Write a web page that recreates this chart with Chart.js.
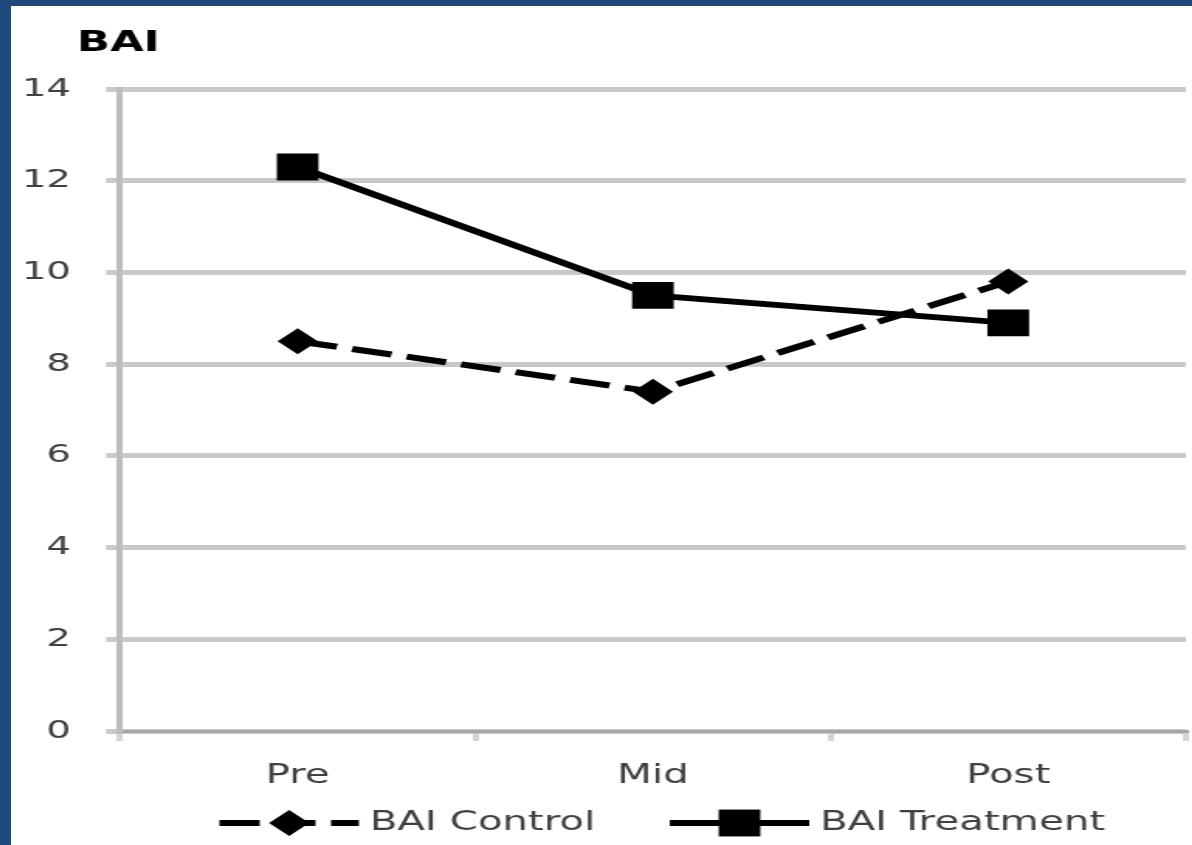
<!DOCTYPE html>
<html>
<head>
<meta charset="utf-8">
<title>BAI</title>
<script src="https://cdn.jsdelivr.net/npm/chart.js@4/dist/chart.umd.min.js"></script>
<style>
  html, body { margin: 0; padding: 0; }
  body { width: 1192px; height: 845px; overflow: hidden; background: #1f497d; position: relative; }
  #panel { position: absolute; left: 11px; top: 6px; width: 1181px; height: 839px; background: #ffffff; overflow: hidden; }
  #wrap { position: absolute; left: 0; top: 0; width: 762px; height: 839px; transform: scaleX(1.55); transform-origin: 0 0; }
</style>
</head>
<body>
<div id="panel"><div id="wrap"><canvas id="chart"></canvas></div></div>
<script>
// Assessment points and mean BAI scores per group
const periods = ['Pre', 'Mid', 'Post'];
const baiControl = [8.5, 7.4, 9.8];
const baiTreatment = [12.3, 9.5, 8.9];
const seriesNames = ['BAI Control', 'BAI Treatment'];
const axisTitle = 'BAI';
const yMin = 0, yMax = 14, yStep = 2;

const FONT = '"DejaVu Sans", Verdana, sans-serif';
const TEXT = '#404040';

// Axis caption drawn above the value axis
const captionPlugin = {
  id: 'caption',
  afterDraw(chart, args, opts) {
    const ctx = chart.ctx;
    ctx.save();
    ctx.font = `bold ${opts.size}px ${FONT}`;
    ctx.fillStyle = '#000000';
    ctx.textBaseline = 'alphabetic';
    ctx.textAlign = 'left';
    ctx.fillText(opts.text, opts.x, opts.y);
    ctx.restore();
  }
};

// Series key: line sample with its marker, followed by the series name
const keyPlugin = {
  id: 'seriesKey',
  afterDraw(chart, args, opts) {
    const { ctx, chartArea } = chart;
    ctx.save();
    ctx.font = `${opts.size}px ${FONT}`;
    const items = chart.data.datasets.map(ds => ({ ds, w: ctx.measureText(ds.label).width }));
    const total = items.reduce((a, it) => a + opts.sample + opts.textGap + it.w, 0) + opts.itemGap * (items.length - 1);
    let x = (chartArea.left + chartArea.right) / 2 - total / 2 + opts.shift;
    const y = opts.y;
    items.forEach(({ ds, w }) => {
      ctx.save();
      ctx.strokeStyle = ds.borderColor;
      ctx.lineWidth = ds.borderWidth;
      ctx.lineCap = 'butt';
      ctx.setLineDash(ds.borderDash || []);
      ctx.beginPath();
      ctx.moveTo(x, y);
      ctx.lineTo(x + opts.sample, y);
      ctx.stroke();
      ctx.restore();
      ctx.save();
      ctx.fillStyle = ds.pointBackgroundColor;
      ctx.strokeStyle = ds.pointBorderColor;
      Chart.helpers.drawPoint(ctx, { pointStyle: ds.pointStyle, radius: ds.pointRadius, rotation: 0, borderWidth: 0 }, x + opts.sample / 2, y);
      ctx.restore();
      ctx.fillStyle = TEXT;
      ctx.textBaseline = 'middle';
      ctx.textAlign = 'left';
      ctx.fillText(ds.label, x + opts.sample + opts.textGap, y);
      x += opts.sample + opts.textGap + w + opts.itemGap;
    });
    ctx.restore();
  }
};

new Chart(document.getElementById('chart'), {
  type: 'line',
  data: {
    labels: periods,
    datasets: [
      {
        label: seriesNames[0],
        data: baiControl,
        borderColor: '#000000',
        backgroundColor: '#000000',
        borderWidth: 6,
        borderDash: [26, 10],
        borderCapStyle: 'butt',
        pointStyle: 'rectRot',
        pointRadius: 13,
        pointHoverRadius: 13,
        pointBackgroundColor: '#000000',
        pointBorderColor: '#000000',
        pointBorderWidth: 0,
        tension: 0,
        fill: false
      },
      {
        label: seriesNames[1],
        data: baiTreatment,
        borderColor: '#000000',
        backgroundColor: '#000000',
        borderWidth: 6,
        pointStyle: 'rect',
        pointRadius: 19,
        pointHoverRadius: 19,
        pointBackgroundColor: '#000000',
        pointBorderColor: '#000000',
        pointBorderWidth: 0,
        tension: 0,
        fill: false
      }
    ]
  },
  options: {
    responsive: true,
    maintainAspectRatio: false,
    animation: false,
    events: [],
    layout: { autoPadding: false, padding: { top: 83, right: 4, bottom: 59, left: 0 } },
    plugins: {
      legend: { display: false },
      tooltip: { enabled: false },
      title: { display: false },
      caption: { text: axisTitle, size: 28, x: 42.6, y: 45 },
      seriesKey: { size: 26, sample: 90, textGap: 7, itemGap: 48, shift: 6, y: 817 }
    },
    scales: {
      x: {
        type: 'category',
        offset: true,
        z: 1,
        grid: {
          offset: true,
          drawOnChartArea: false,
          drawTicks: true,
          tickLength: 10,
          color: '#d4d4d4',
          lineWidth: 4
        },
        border: { display: true, color: '#a6a6a6', width: 3 },
        ticks: {
          color: TEXT,
          padding: 20,
          font: { family: FONT, size: 26 },
          maxRotation: 0
        },
        afterFit(scale) { scale.height = 55; }
      },
      y: {
        min: yMin,
        max: yMax,
        ticks: {
          stepSize: yStep,
          color: TEXT,
          padding: 22.6,
          font: { family: FONT, size: 25 }
        },
        grid: {
          color: '#c9c9c9',
          lineWidth: 5,
          tickLength: 9,
          drawTicks: true
        },
        border: { display: true, color: '#bdbdbd', width: 4 },
        afterFit(scale) { scale.width = 70.3; }
      }
    }
  },
  plugins: [captionPlugin, keyPlugin]
});
</script>
</body>
</html>
